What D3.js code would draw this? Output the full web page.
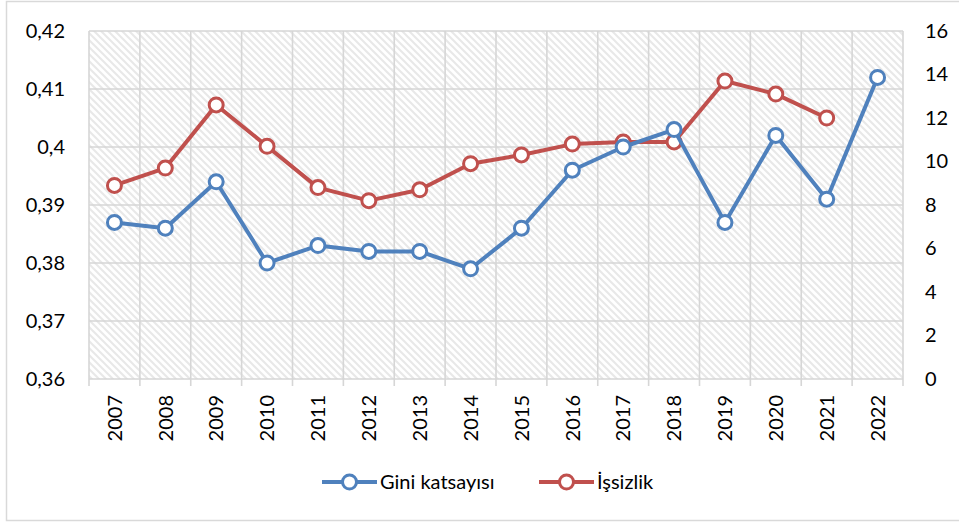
<!DOCTYPE html>
<html>
<head>
<meta charset="utf-8">
<script src="https://cdn.jsdelivr.net/npm/d3@7"></script>
<style>
  body { margin: 0; background: #fff; }
  text { font-family: Lato, "Open Sans", sans-serif; fill: #000; }
</style>
</head>
<body>
<div id="chart"></div>
<script>
const years = ["2007","2008","2009","2010","2011","2012","2013","2014","2015","2016","2017","2018","2019","2020","2021","2022"]
const gini = [0.387, 0.386, 0.394, 0.380, 0.383, 0.382, 0.382, 0.379, 0.386, 0.396, 0.400, 0.403, 0.387, 0.402, 0.391, 0.412]
const unemployment = [8.9, 9.7, 12.6, 10.7, 8.8, 8.2, 8.7, 9.9, 10.3, 10.8, 10.9, 10.9, 13.7, 13.1, 12.0, null]
const leftTicks = [0.36, 0.37, 0.38, 0.39, 0.40, 0.41, 0.42]
const rightTicks = [0, 2, 4, 6, 8, 10, 12, 14, 16]
const seriesNames = ["Gini katsayısı", "İşsizlik"]

const width = 959, height = 525
const plot = { left: 89, right: 903, top: 31, bottom: 379 }
const blue = "#4f81bd", red = "#c0504d", grid = "#d6d6d6"

const svg = d3.select("#chart").append("svg")
  .attr("width", width)
  .attr("height", height)

// chart frame
svg.append("rect")
  .attr("x", 6.5).attr("y", 1.5)
  .attr("width", 970).attr("height", 519)
  .attr("fill", "none").attr("stroke", "#d9d9d9").attr("stroke-width", 1.5)

// hatch pattern
const pat = svg.append("defs").append("pattern")
  .attr("id", "hatch")
  .attr("patternUnits", "userSpaceOnUse")
  .attr("width", 7).attr("height", 7)
pat.append("rect").attr("width", 7).attr("height", 7).attr("fill", "#fff")
pat.append("path")
  .attr("d", "M0,0L7,7M-1,6L1,8M6,-1L8,1")
  .attr("stroke", "#e8e8e8").attr("stroke-width", 2)

const x = d3.scaleBand().domain(years).range([plot.left, plot.right])
const yL = d3.scaleLinear().domain([0.36, 0.42]).range([plot.bottom, plot.top])
const yR = d3.scaleLinear().domain([0, 16]).range([plot.bottom, plot.top])

svg.append("rect")
  .attr("x", plot.left).attr("y", plot.top)
  .attr("width", plot.right - plot.left).attr("height", plot.bottom - plot.top)
  .attr("fill", "url(#hatch)")

// horizontal gridlines
svg.append("g").selectAll("line").data(leftTicks).enter().append("line")
  .attr("x1", plot.left).attr("x2", plot.right)
  .attr("y1", d => yL(d)).attr("y2", d => yL(d))
  .attr("stroke", grid).attr("stroke-width", 1.6)

// vertical gridlines + ticks
const bounds = years.map(d => x(d)).concat([plot.right])
svg.append("g").selectAll("line").data(bounds).enter().append("line")
  .attr("x1", d => d).attr("x2", d => d)
  .attr("y1", plot.top).attr("y2", plot.bottom + 7)
  .attr("stroke", grid).attr("stroke-width", 1.6)

// left axis
const leftAxis = d3.axisLeft(yL).tickValues(leftTicks).tickSize(0).tickPadding(0)
  .tickFormat(d => d3.format(".2f")(d).replace(/0$/, "").replace(".", ","))
const gL = svg.append("g").attr("transform", "translate(65,0)").call(leftAxis)
gL.select(".domain").remove()
gL.selectAll("text").attr("font-size", 20).style("font-family", "Lato").attr("fill", "#000")

// right axis
const rightAxis = d3.axisRight(yR).tickValues(rightTicks).tickSize(0).tickPadding(0)
const gR = svg.append("g").attr("transform", "translate(925,0)").call(rightAxis)
gR.select(".domain").remove()
gR.selectAll("text").attr("font-size", 20).style("font-family", "Lato").attr("fill", "#000")

// x labels
const xAxis = d3.axisBottom(x).tickSize(0).tickPadding(0)
const gX = svg.append("g").attr("transform", "translate(0," + plot.bottom + ")").call(xAxis)
gX.select(".domain").remove()
gX.selectAll("text")
  .attr("font-size", 20).style("font-family", "Lato").attr("fill", "#000")
  .attr("text-anchor", "end")
  .attr("transform", "translate(0,16)rotate(-90)")
  .attr("x", 0).attr("y", 0).attr("dy", "0.36em")

const cx = d => x(d) + x.bandwidth() / 2

function drawSeries(values, scale, color) {
  const pts = years.map((yr, i) => ({ yr, v: values[i] })).filter(d => d.v !== null)
  const line = d3.line().x(d => cx(d.yr)).y(d => scale(d.v))
  svg.append("path").datum(pts)
    .attr("d", line)
    .attr("fill", "none").attr("stroke", color)
    .attr("stroke-width", 4).attr("stroke-linejoin", "round")
  svg.append("g").selectAll("circle").data(pts).enter().append("circle")
    .attr("cx", d => cx(d.yr)).attr("cy", d => scale(d.v))
    .attr("r", 7).attr("fill", "#fff")
    .attr("stroke", color).attr("stroke-width", 3)
}

drawSeries(unemployment, yR, red)
drawSeries(gini, yL, blue)

// legend
const legendItems = [
  { name: seriesNames[0], color: blue, x0: 322 },
  { name: seriesNames[1], color: red, x0: 539 }
]
const ly = 482
const lg = svg.append("g").selectAll("g").data(legendItems).enter().append("g")
  .attr("transform", d => "translate(" + d.x0 + "," + ly + ")")
lg.append("line").attr("x1", 0).attr("x2", 55)
  .attr("stroke", d => d.color).attr("stroke-width", 4)
lg.append("circle").attr("cx", 27.5).attr("r", 7)
  .attr("fill", "#fff").attr("stroke", d => d.color).attr("stroke-width", 3)
lg.append("text").attr("x", 58).attr("dy", "0.36em")
  .attr("font-size", 20).text(d => d.name)
</script>
</body>
</html>
